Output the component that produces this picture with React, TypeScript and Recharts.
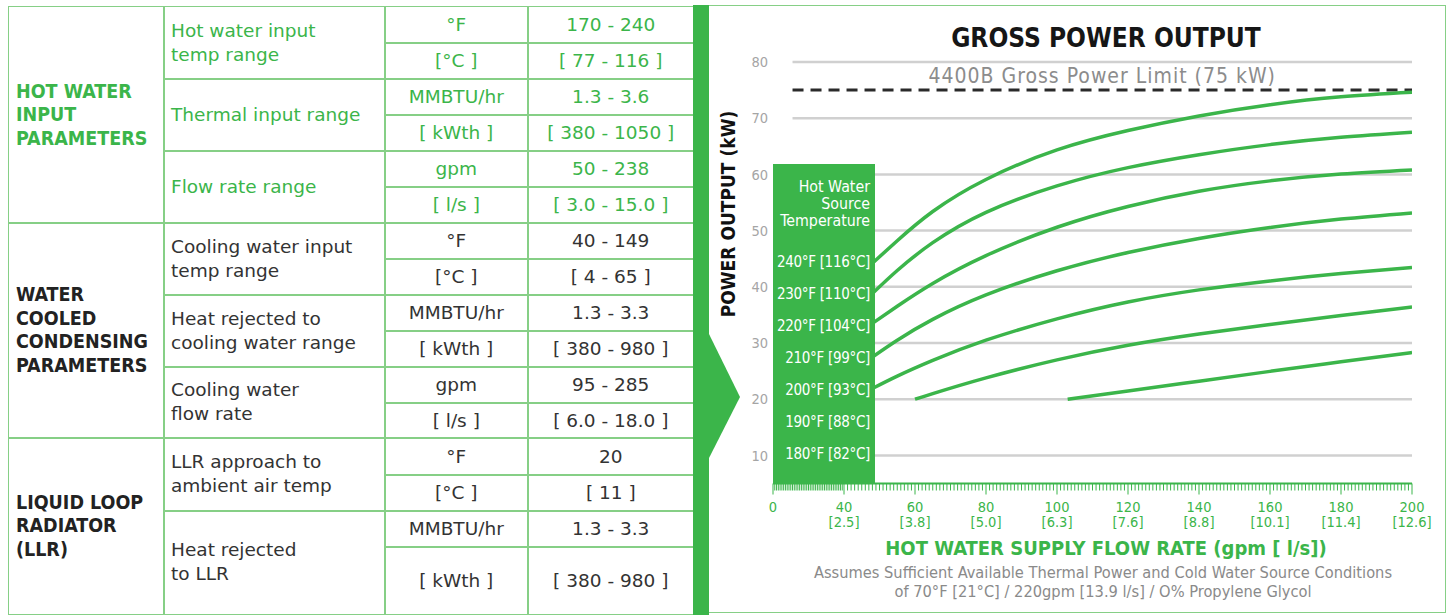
import React from "react";
import { LineChart, Line, XAxis, YAxis, ReferenceLine, Legend } from "recharts";

// hot water supply flow (gpm) vs gross power output (kW), one curve per source temperature
const flowGpm = [48, 55, 65, 80, 100, 120, 140, 160, 180, 200];
const kw240 = [44.2, 48.2, 53.4, 59.1, 64.35, 67.8, 70.4, 72.4, 73.8, 74.6];
const kw230 = [38.8, 42.9, 47.85, 53.25, 57.95, 61.2, 63.5, 65.3, 66.6, 67.5];
const kw220 = [33.5, 36.55, 40.6, 45.55, 50.6, 54.3, 57.0, 58.85, 60.05, 60.8];
const kw210 = [27.5, 30.5, 34.2, 38.55, 42.85, 46.1, 48.6, 50.55, 52.05, 53.15];
const kw200 = [21.9, 24.1, 26.9, 30.5, 34.3, 37.3, 39.45, 41.05, 42.35, 43.45];
const flowGpm190 = [60, 65, 80, 100, 120, 140, 160, 180, 200];
const kw190 = [20.0, 21.0, 23.8, 27.0, 29.6, 31.6, 33.3, 34.9, 36.4];
const flowGpm180 = [103, 120, 140, 160, 180, 200];
const kw180 = [20.0, 21.45, 23.2, 24.95, 26.65, 28.3];

const sourceTemps = [
  "240°F [116°C]",
  "230°F [110°C]",
  "220°F [104°C]",
  "210°F [99°C]",
  "200°F [93°C]",
  "190°F [88°C]",
  "180°F [82°C]",
];

const kwTicks = [10, 20, 30, 40, 50, 60, 70, 80];
const majorGpm = [0, 40, 60, 80, 100, 120, 140, 160, 180, 200];
const majorLps = ["", "2.5", "3.8", "5.0", "6.3", "7.6", "8.8", "10.1", "11.4", "12.6"];
const limitKw = 75;
const limitLabel = "4400B Gross Power Limit (75 kW)";

// table contents
const sections = [
  {
    title: ["HOT WATER", "INPUT", "PARAMETERS"],
    green: true,
    groups: [
      { label: ["Hot water input", "temp range"], units: ["°F", "[°C ]"], values: ["170 - 240", "[ 77 - 116 ]"] },
      { label: ["Thermal input range"], units: ["MMBTU/hr", "[ kWth ]"], values: ["1.3 - 3.6", "[ 380 - 1050 ]"] },
      { label: ["Flow rate range"], units: ["gpm", "[ l/s ]"], values: ["50 - 238", "[ 3.0 - 15.0 ]"] },
    ],
  },
  {
    title: ["WATER", "COOLED", "CONDENSING", "PARAMETERS"],
    green: false,
    groups: [
      { label: ["Cooling water input", "temp range"], units: ["°F", "[°C ]"], values: ["40 - 149", "[ 4 - 65 ]"] },
      { label: ["Heat rejected to", "cooling water range"], units: ["MMBTU/hr", "[ kWth ]"], values: ["1.3 - 3.3", "[ 380 - 980 ]"] },
      { label: ["Cooling water", "flow rate"], units: ["gpm", "[ l/s ]"], values: ["95 - 285", "[ 6.0 - 18.0 ]"] },
    ],
  },
  {
    title: ["LIQUID LOOP", "RADIATOR", "(LLR)"],
    green: false,
    groups: [
      { label: ["LLR approach to", "ambient air temp"], units: ["°F", "[°C ]"], values: ["20", "[ 11 ]"] },
      { label: ["Heat rejected", "to LLR"], units: ["MMBTU/hr", "[ kWth ]"], values: ["1.3 - 3.3", "[ 380 - 980 ]"] },
    ],
  },
];

const GREEN = "#3bb54a";
const LINE_GREEN = "#86cf86";
const DARK = "#333333";
const DIN = "'DejaVu Sans Condensed', 'Liberation Sans Narrow', sans-serif";
const BODY = "'DejaVu Sans', Verdana, sans-serif";

const rowEdges = [6, 42, 78, 114, 150, 186, 222, 258, 294, 330, 366, 402, 437, 474, 510, 546, 613];
const colEdges = [8, 163, 384, 527, 693];
const BW = 1.5;

// the picture squeezes 0-40 gpm into half the width
const axisPos = (g: number) => (g < 40 ? 20 + g / 2 : g);

const toPoints = (xs: number[], ys: number[]) => xs.map((g, i) => ({ pos: axisPos(g), kw: ys[i] }));
const series = [
  toPoints(flowGpm, kw240),
  toPoints(flowGpm, kw230),
  toPoints(flowGpm, kw220),
  toPoints(flowGpm, kw210),
  toPoints(flowGpm, kw200),
  toPoints(flowGpm190, kw190),
  toPoints(flowGpm180, kw180),
];

const majorPos = majorGpm.map(axisPos);
const tickPos: number[] = [];
for (let g = 0; g <= 200; g += 1) tickPos.push(axisPos(g));
const gridFrom = axisPos(11);

function FlowTick(props: any) {
  const { x, y, payload } = props;
  const i = majorPos.indexOf(payload.value);
  const major = i >= 0;
  return (
    <g>
      <line x1={x} x2={x} y1={y} y2={y + (major ? 11 : 7)} stroke={GREEN} strokeWidth={1} />
      {major && (
        <text x={x} y={y + 28} textAnchor="middle" fill={GREEN} fontSize={14.5} fontFamily={DIN}>
          {majorGpm[i]}
        </text>
      )}
      {major && majorLps[i] && (
        <text x={x} y={y + 43.5} textAnchor="middle" fill={GREEN} fontSize={14.5} fontFamily={DIN}>
          [{majorLps[i]}]
        </text>
      )}
    </g>
  );
}

function SourceBox({ payload }: any) {
  const names: string[] = payload && payload.length
    ? payload.map((e: any) => String(e.value)).sort((a: string, b: string) => sourceTemps.indexOf(a) - sourceTemps.indexOf(b))
    : sourceTemps;
  return (
    <div
      style={{
        width: 102,
        height: 319.5,
        boxSizing: "border-box",
        background: GREEN,
        color: "#fff",
        textAlign: "right",
        paddingRight: 5,
        paddingTop: 13.5,
        fontFamily: DIN,
      }}
    >
      <div style={{ fontSize: 15.8, lineHeight: "17px" }}>
        Hot Water
        <br />
        Source
        <br />
        Temperature
      </div>
      <div style={{ marginTop: 17.5, fontSize: 15, letterSpacing: -0.3 }}>
        {names.map((n) => (
          <div key={n} style={{ lineHeight: "32px", whiteSpace: "nowrap" }}>
            {n}
          </div>
        ))}
      </div>
    </div>
  );
}

function Cell({ c0, c1, r0, r1, left, color, children, style }: any) {
  return (
    <div
      style={{
        position: "absolute",
        left: colEdges[c0],
        top: rowEdges[r0],
        width: colEdges[c1] - colEdges[c0] + BW,
        height: rowEdges[r1] - rowEdges[r0] + BW,
        boxSizing: "border-box",
        border: `${BW}px solid ${LINE_GREEN}`,
        display: "flex",
        alignItems: "center",
        justifyContent: left ? "flex-start" : "center",
        paddingLeft: left ? 7 : 0,
        color,
        fontFamily: BODY,
        fontSize: 18.5,
        whiteSpace: "nowrap",
        ...style,
      }}
    >
      <div>{children}</div>
    </div>
  );
}

function SpecTable() {
  const cells: React.ReactNode[] = [];
  let r = 0;
  sections.forEach((sec, si) => {
    const color = sec.green ? GREEN : DARK;
    const secStart = r;
    sec.groups.forEach((g, gi) => {
      const gStart = r;
      g.units.forEach((u, ui) => {
        cells.push(
          <Cell key={`u${si}-${gi}-${ui}`} c0={2} c1={3} r0={r} r1={r + 1} color={color}>
            {u}
          </Cell>
        );
        cells.push(
          <Cell key={`v${si}-${gi}-${ui}`} c0={3} c1={4} r0={r} r1={r + 1} color={color}>
            {g.values[ui]}
          </Cell>
        );
        r += 1;
      });
      cells.push(
        <Cell key={`l${si}-${gi}`} c0={1} c1={2} r0={gStart} r1={r} left color={color} style={{ lineHeight: "24px" }}>
          {g.label.map((t) => (
            <div key={t}>{t}</div>
          ))}
        </Cell>
      );
    });
    cells.push(
      <Cell
        key={`s${si}`}
        c0={0}
        c1={1}
        r0={secStart}
        r1={r}
        left
        color={sec.green ? GREEN : "#222"}
        style={{ fontFamily: DIN, fontWeight: 700, fontSize: 19.5, lineHeight: "23.5px" }}
      >
        {sec.title.map((t) => (
          <div key={t}>{t}</div>
        ))}
      </Cell>
    );
  });
  return <>{cells}</>;
}

export default function App() {
  return (
    <div style={{ position: "absolute", left: 0, top: 0, width: 1448, height: 615, background: "#fff", overflow: "hidden" }}>
      <SpecTable />

      {/* green divider with arrow and chart panel frame */}
      <div style={{ position: "absolute", left: 693, top: 5, width: 16, height: 610, background: GREEN }} />
      <svg style={{ position: "absolute", left: 700, top: 320 }} width={50} height={150}>
        <polygon points="8,12 40,77 8,140" fill={GREEN} />
      </svg>
      <div
        style={{
          position: "absolute",
          left: 709,
          top: 5,
          width: 737,
          height: 608,
          boxSizing: "border-box",
          border: `1.5px solid ${LINE_GREEN}`,
          borderLeft: "none",
        }}
      />

      <div
        style={{
          position: "absolute",
          left: 806,
          top: 23,
          width: 600,
          lineHeight: "30px",
          textAlign: "center",
          fontFamily: DIN,
          fontWeight: 700,
          fontSize: 26,
          color: "#161616",
        }}
      >
        GROSS POWER OUTPUT
      </div>

      <div style={{ position: "absolute", left: 700, top: 0 }}>
        <LineChart width={748} height={615} margin={{ top: 62, right: 36, bottom: 0, left: 0 }}>
          <XAxis
            type="number"
            dataKey="pos"
            domain={[20, 200]}
            allowDataOverflow
            ticks={tickPos}
            interval={0}
            tick={(p: any) => <FlowTick {...p} />}
            tickLine={false}
            tickSize={0}
            tickMargin={0}
            axisLine={{ stroke: GREEN, strokeWidth: 2 }}
            height={131.5}
          />
          <YAxis
            type="number"
            domain={[5, 80]}
            ticks={kwTicks}
            interval={0}
            width={73}
            axisLine={false}
            tickLine={false}
            tickSize={0}
            tickMargin={5}
            tick={{ fill: "#a5a5a5", fontSize: 14.5, fontFamily: DIN }}
          />
          {kwTicks.map((v) => (
            <ReferenceLine
              key={v}
              segment={[
                { x: gridFrom, y: v },
                { x: 200, y: v },
              ]}
              stroke="#d0d0d0"
              strokeWidth={2.5}
            />
          ))}
          <ReferenceLine
            segment={[
              { x: gridFrom, y: limitKw },
              { x: 200, y: limitKw },
            ]}
            stroke="#2a2a2a"
            strokeWidth={3}
            strokeDasharray="11 7"
            label={{
              value: limitLabel,
              position: "top",
              offset: 7.5,
              fill: "#8c8c8c",
              fontSize: 21,
              fontFamily: DIN,
              style: { letterSpacing: 1 },
            }}
          />
          {series.map((pts, i) => (
            <Line
              key={sourceTemps[i]}
              name={sourceTemps[i]}
              data={pts}
              dataKey="kw"
              type="natural"
              stroke={GREEN}
              strokeWidth={3.5}
              dot={false}
              activeDot={false}
              isAnimationActive={false}
            />
          ))}
          <Legend
            layout="horizontal"
            verticalAlign="middle"
            align="center"
            wrapperStyle={{ left: 73, top: 164, width: 102, height: 319.5, margin: 0, padding: 0 }}
            content={(p: any) => <SourceBox payload={p.payload} />}
          />
        </LineChart>
      </div>

      <div
        style={{
          position: "absolute",
          left: 608,
          top: 202,
          width: 240,
          height: 24,
          lineHeight: "24px",
          textAlign: "center",
          transform: "rotate(-90deg)",
          fontFamily: DIN,
          fontWeight: 700,
          fontSize: 19,
          color: "#111",
        }}
      >
        POWER OUTPUT (kW)
      </div>

      <div
        style={{
          position: "absolute",
          left: 806,
          top: 535,
          width: 600,
          lineHeight: "26px",
          textAlign: "center",
          fontFamily: DIN,
          fontWeight: 700,
          fontSize: 20,
          color: GREEN,
        }}
      >
        HOT WATER SUPPLY FLOW RATE (gpm [ l/s])
      </div>
      <div
        style={{
          position: "absolute",
          left: 753,
          top: 562.5,
          width: 700,
          lineHeight: "19px",
          textAlign: "center",
          fontFamily: DIN,
          fontSize: 16.3,
          color: "#8a8a8a",
        }}
      >
        <div>Assumes Sufficient Available Thermal Power and Cold Water Source Conditions</div>
        <div>of 70°F [21°C] / 220gpm [13.9 l/s] / O% Propylene Glycol</div>
      </div>
    </div>
  );
}
